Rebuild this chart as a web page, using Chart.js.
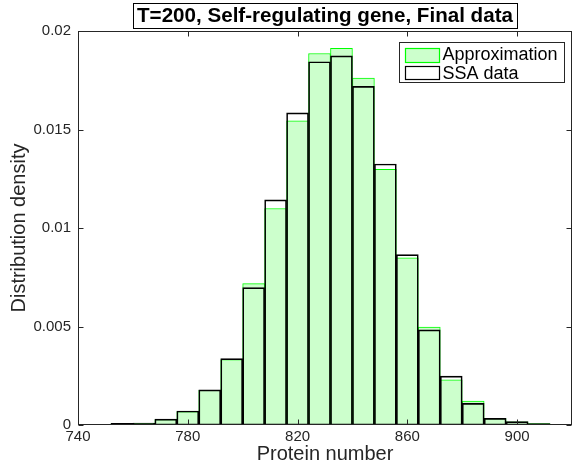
<!DOCTYPE html>
<html>
<head>
<meta charset="utf-8">
<script src="https://cdn.jsdelivr.net/npm/chart.js@4.4.0/dist/chart.umd.min.js"></script>
<style>
  body { margin: 0; background: #fff; }
</style>
</head>
<body>
<canvas id="chart" width="573" height="466"></canvas>
<script>
// histogram bins (width 8), centres of each bin
const binCenters = [756, 764, 772, 780, 788, 796, 804, 812, 820, 828, 836, 844, 852, 860, 868, 876, 884, 892, 900, 908, 916];
const approxValues = [0.00007, 0.00009, 0.00028, 0.00068, 0.00176, 0.00332, 0.00718, 0.01099, 0.01544, 0.01886, 0.01912, 0.01761, 0.01298, 0.00848, 0.00497, 0.00229, 0.00121, 0.00033, 0.00016, 0.00007, 0.00002];
const ssaValues = [0.00008, 0.0001, 0.0003, 0.00071, 0.00178, 0.00337, 0.00697, 0.01143, 0.01584, 0.01844, 0.01874, 0.01719, 0.01325, 0.00865, 0.00483, 0.00248, 0.0011, 0.00034, 0.00017, 0.00007, 0.00002];

const xTicks = [740, 780, 820, 860, 900];
const yTicks = [0, 0.005, 0.01, 0.015, 0.02];
const yTickLabels = ['0', '0.005', '0.01', '0.015', '0.02'];

const titleText = 'T=200, Self-regulating gene, Final data';
const legendLabels = ['Approximation', 'SSA data'];

const FONT = '"Liberation Sans", Arial, Helvetica, sans-serif';
const AXIS_COLOR = '#262626';
const GREEN_FILL = '#ccffcc';
const GREEN_EDGE = '#00ff00';

// Box, inward ticks, boxed title and legend (MATLAB style)
const framePlugin = {
    id: 'frame',
    afterDraw(chart) {
        const { ctx, chartArea: a, scales: { x, y } } = chart;
        ctx.save();
        ctx.strokeStyle = AXIS_COLOR;
        ctx.lineWidth = 1;

        const L = Math.round(a.left) + 0.5;
        const R = Math.round(a.right) - 0.5;
        const T = Math.round(a.top) + 0.5;
        const B = Math.round(a.bottom) - 0.5;
        ctx.strokeRect(L, T, R - L, B - T);

        ctx.beginPath();
        xTicks.forEach(v => {
            const px = Math.round(x.getPixelForValue(v)) + 0.5;
            ctx.moveTo(px, B); ctx.lineTo(px, B - 5);
            ctx.moveTo(px, T); ctx.lineTo(px, T + 5);
        });
        yTicks.forEach(v => {
            const py = Math.round(y.getPixelForValue(v)) + 0.5;
            ctx.moveTo(L, py); ctx.lineTo(L + 5, py);
            ctx.moveTo(R, py); ctx.lineTo(R - 5, py);
        });
        ctx.stroke();

        // title in a box
        ctx.font = 'bold 20.6px ' + FONT;
        const tw = ctx.measureText(titleText).width;
        const cx = (a.left + a.right) / 2;
        const bx = Math.round(cx - tw / 2 - 4) + 0.5;
        const bw = Math.round(tw + 8);
        ctx.fillStyle = '#fff';
        ctx.fillRect(bx, 3.5, bw, 25);
        ctx.strokeStyle = '#000';
        ctx.strokeRect(bx, 3.5, bw, 25);
        ctx.fillStyle = '#000';
        ctx.textAlign = 'center';
        ctx.textBaseline = 'alphabetic';
        ctx.fillText(titleText, cx, 22);

        // legend
        const lx = Math.round(a.right) - 172.5;
        const ly = 42.5;
        ctx.fillStyle = '#fff';
        ctx.fillRect(lx, ly, 165, 40);
        ctx.strokeStyle = AXIS_COLOR;
        ctx.strokeRect(lx, ly, 165, 40);

        ctx.fillStyle = GREEN_FILL;
        ctx.fillRect(lx + 6, ly + 6, 34, 14);
        ctx.strokeStyle = GREEN_EDGE;
        ctx.lineWidth = 1.2;
        ctx.strokeRect(lx + 6, ly + 6, 34, 14);

        ctx.fillStyle = '#fff';
        ctx.fillRect(lx + 6, ly + 24, 34, 13);
        ctx.strokeStyle = '#000';
        ctx.strokeRect(lx + 6, ly + 24, 34, 13);

        ctx.font = '18px ' + FONT;
        ctx.fillStyle = '#000';
        ctx.textAlign = 'left';
        ctx.fillText(legendLabels[0], lx + 43, ly + 17);
        ctx.fillText(legendLabels[1], lx + 43, ly + 36);
        ctx.restore();
    }
};

const ctx = document.getElementById('chart').getContext('2d');
new Chart(ctx, {
    type: 'bar',
    data: {
        datasets: [
            {
                label: legendLabels[0],
                data: binCenters.map((c, i) => ({ x: c, y: approxValues[i] })),
                backgroundColor: GREEN_FILL,
                borderColor: GREEN_EDGE,
                borderWidth: 1,
                borderSkipped: false,
                barPercentage: 1,
                categoryPercentage: 1,
                grouped: false,
                order: 1
            },
            {
                label: legendLabels[1],
                data: binCenters.map((c, i) => ({ x: c, y: ssaValues[i] })),
                backgroundColor: 'rgba(0,0,0,0)',
                borderColor: '#000',
                borderWidth: 1,
                borderSkipped: false,
                barPercentage: 1,
                categoryPercentage: 1,
                grouped: false,
                order: 0
            }
        ]
    },
    options: {
        responsive: false,
        animation: false,
        devicePixelRatio: 1,
        layout: { padding: { top: 31, right: 1, left: 0, bottom: 0 } },
        plugins: {
            legend: { display: false },
            tooltip: { enabled: false }
        },
        scales: {
            x: {
                type: 'linear',
                min: 740,
                max: 920,
                offset: false,
                afterBuildTicks: scale => { scale.ticks = xTicks.map(v => ({ value: v })); },
                afterFit: scale => { scale.height = 41; },
                grid: { display: false, drawTicks: false, offset: false },
                border: { display: false },
                ticks: {
                    font: { family: FONT, size: 15 },
                    color: AXIS_COLOR,
                    padding: 3,
                    maxRotation: 0,
                    callback: v => String(v)
                },
                title: {
                    display: true,
                    text: 'Protein number',
                    font: { family: FONT, size: 20 },
                    color: AXIS_COLOR,
                    padding: { top: 0, bottom: 0 }
                }
            },
            y: {
                min: 0,
                max: 0.02,
                afterBuildTicks: scale => { scale.ticks = yTicks.map(v => ({ value: v })); },
                afterFit: scale => { scale.width = 78; },
                grid: { display: false, drawTicks: false },
                border: { display: false },
                ticks: {
                    font: { family: FONT, size: 15 },
                    color: AXIS_COLOR,
                    padding: 7,
                    callback: (v, i) => yTickLabels[i]
                },
                title: {
                    display: true,
                    text: 'Distribution density',
                    font: { family: FONT, size: 20 },
                    color: AXIS_COLOR,
                    padding: { top: 7, bottom: 0 }
                }
            }
        }
    },
    plugins: [framePlugin]
});
</script>
</body>
</html>
